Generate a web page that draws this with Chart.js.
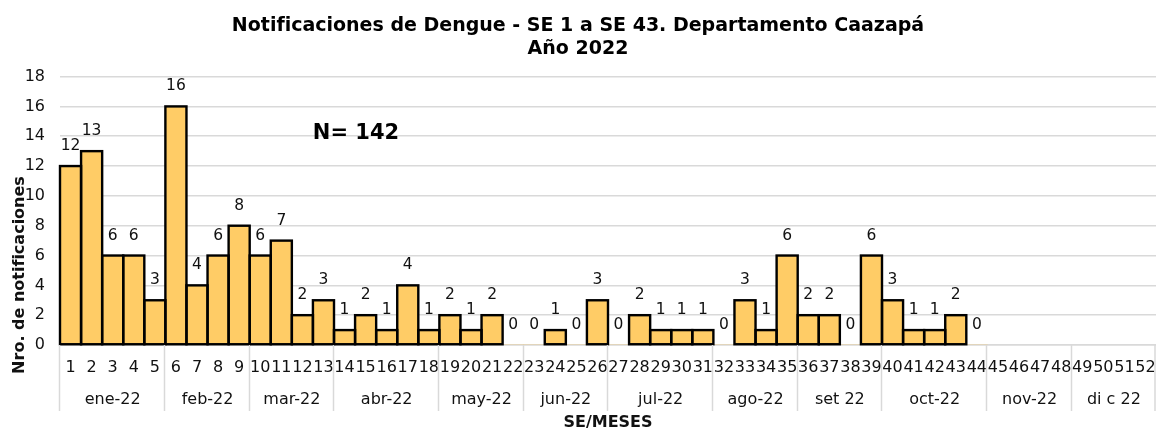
<!DOCTYPE html>
<html lang="es">
<head>
<meta charset="utf-8">
<title>Notificaciones de Dengue - Caazapá 2022</title>
<script src="https://cdn.jsdelivr.net/npm/chart.js@4.4.1/dist/chart.umd.min.js"></script>
<style>
  html, body { margin: 0; padding: 0; background: #ffffff; }
  #wrap { width: 1156px; height: 431px; }
</style>
</head>
<body>
<div id="wrap"><canvas id="dengueChart" width="1156" height="431"></canvas></div>
<script>
// Epidemiological weeks (SE) shown on the category axis
const weeks = ['1','2','3','4','5','6','7','8','9','10','11','12','13','14','15','16','17','18','19','20','21','22','23','24','25','26',
  '27','28','29','30','31','32','33','34','35','36','37','38','39','40','41','42','43','44','45','46','47','48','49','50','51','52'];

// Notifications per week (weeks 45-52 have no data yet)
const notifications = [12, 13, 6, 6, 3, 16, 4, 6, 8, 6, 7, 2, 3, 1, 2, 1, 4, 1, 2, 1, 2, 0, 0, 1, 0, 3,
  0, 2, 1, 1, 1, 0, 3, 1, 6, 2, 2, 0, 6, 3, 1, 1, 2, 0, null, null, null, null, null, null, null, null];

// Month groups under the week numbers and how many weeks each one spans
const months = ['ene-22', 'feb-22', 'mar-22', 'abr-22', 'may-22', 'jun-22', 'jul-22', 'ago-22', 'set 22', 'oct-22', 'nov-22', 'di c 22'];
const monthWeeks = [5, 4, 4, 5, 4, 4, 5, 4, 4, 5, 4, 4];

const yTicks = [0, 2, 4, 6, 8, 10, 12, 14, 16, 18];

const FONT = "'DejaVu Sans', Verdana, sans-serif";
const TEXT = '#111111';
const GRID = '#d9d9d9';

// Excel-like outline: stroke centred on the bar edges, then the value above
const barLabels = {
  id: 'barLabels',
  afterDatasetsDraw(chart) {
    const ctx = chart.ctx;
    const meta = chart.getDatasetMeta(0);
    ctx.save();
    ctx.strokeStyle = '#000';
    ctx.lineWidth = 2.4;
    ctx.lineJoin = 'miter';
    meta.data.forEach((bar, i) => {
      const v = notifications[i];
      if (!v) return;
      const half = bar.width / 2;
      ctx.strokeRect(bar.x - half, bar.y, bar.width, bar.base - bar.y);
    });

    ctx.font = '15.5px ' + FONT;
    ctx.fillStyle = TEXT;
    ctx.textAlign = 'center';
    ctx.textBaseline = 'middle';
    meta.data.forEach((bar, i) => {
      const v = notifications[i];
      if (v === null || v === undefined) return;
      ctx.fillText(String(v), bar.x, bar.y - 20);
    });
    ctx.restore();
  }
};

// Month groups, separators, axis titles and the total
const extras = {
  id: 'extras',
  afterDraw(chart) {
    const ctx = chart.ctx;
    const area = chart.chartArea;
    const step = (area.right - area.left) / weeks.length;

    ctx.save();
    // separators between months
    ctx.strokeStyle = GRID;
    ctx.lineWidth = 1.5;
    let start = 0;
    const edges = [0];
    monthWeeks.forEach(n => { start += n; edges.push(start); });
    edges.forEach(e => {
      const px = Math.min(Math.round(area.left + e * step) - 0.5, chart.width - 1);
      ctx.beginPath();
      ctx.moveTo(px, area.bottom);
      ctx.lineTo(px, area.bottom + 66);
      ctx.stroke();
    });

    // month names
    ctx.font = '16px ' + FONT;
    ctx.fillStyle = TEXT;
    ctx.textAlign = 'center';
    ctx.textBaseline = 'middle';
    for (let m = 0; m < months.length; m++) {
      const cx = area.left + (edges[m] + edges[m + 1]) / 2 * step;
      ctx.fillText(months[m], cx, 400);
    }

    // x axis title
    ctx.font = 'bold 16px ' + FONT;
    ctx.fillText('SE/MESES', (area.left + area.right) / 2, 423);

    // y axis title
    ctx.save();
    ctx.translate(19.5, 275);
    ctx.rotate(-Math.PI / 2);
    ctx.fillText('Nro. de notificaciones', 0, 0);
    ctx.restore();

    // total of notifications
    ctx.font = 'bold 21px ' + FONT;
    ctx.fillStyle = '#000';
    ctx.fillText('N= 142', 356, 134);
    ctx.restore();
  }
};

document.addEventListener('DOMContentLoaded', () => {
  const ctx = document.getElementById('dengueChart');

  new Chart(ctx, {
    type: 'bar',
    data: {
      labels: weeks,
      datasets: [{
        label: 'Notificaciones',
        data: notifications,
        backgroundColor: '#FFCC66',
        borderWidth: 0,
        barPercentage: 1,
        categoryPercentage: 1
      }]
    },
    options: {
      responsive: false,
      animation: false,
      devicePixelRatio: 1,
      layout: { padding: { left: 0, right: 0, top: 0, bottom: 0 } },
      plugins: {
        legend: { display: false },
        tooltip: { enabled: false },
        title: {
          display: true,
          text: ['Notificaciones de Dengue - SE 1 a SE 43. Departamento Caazapá', 'Año 2022'],
          color: '#000',
          font: { family: FONT, size: 19, weight: 'bold', lineHeight: 1.226 },
          padding: { top: 14, bottom: 16 }
        }
      },
      scales: {
        x: {
          grid: { display: false, drawTicks: true, tickLength: 13 },
          border: { display: true, color: GRID, width: 1.5 },
          ticks: {
            color: TEXT,
            font: { family: FONT, size: 16 },
            padding: 0,
            maxRotation: 0,
            autoSkip: false
          },
          afterFit: scale => { scale.height = 86; }
        },
        y: {
          min: 0,
          max: 18,
          afterBuildTicks: scale => { scale.ticks = yTicks.map(v => ({ value: v })); },
          grid: { color: GRID, lineWidth: 1.5, drawTicks: false },
          border: { display: false },
          ticks: {
            color: TEXT,
            font: { family: FONT, size: 16 },
            padding: 15
          },
          afterFit: scale => { scale.width = 60; }
        }
      }
    },
    plugins: [barLabels, extras]
  });
});
</script>
</body>
</html>
